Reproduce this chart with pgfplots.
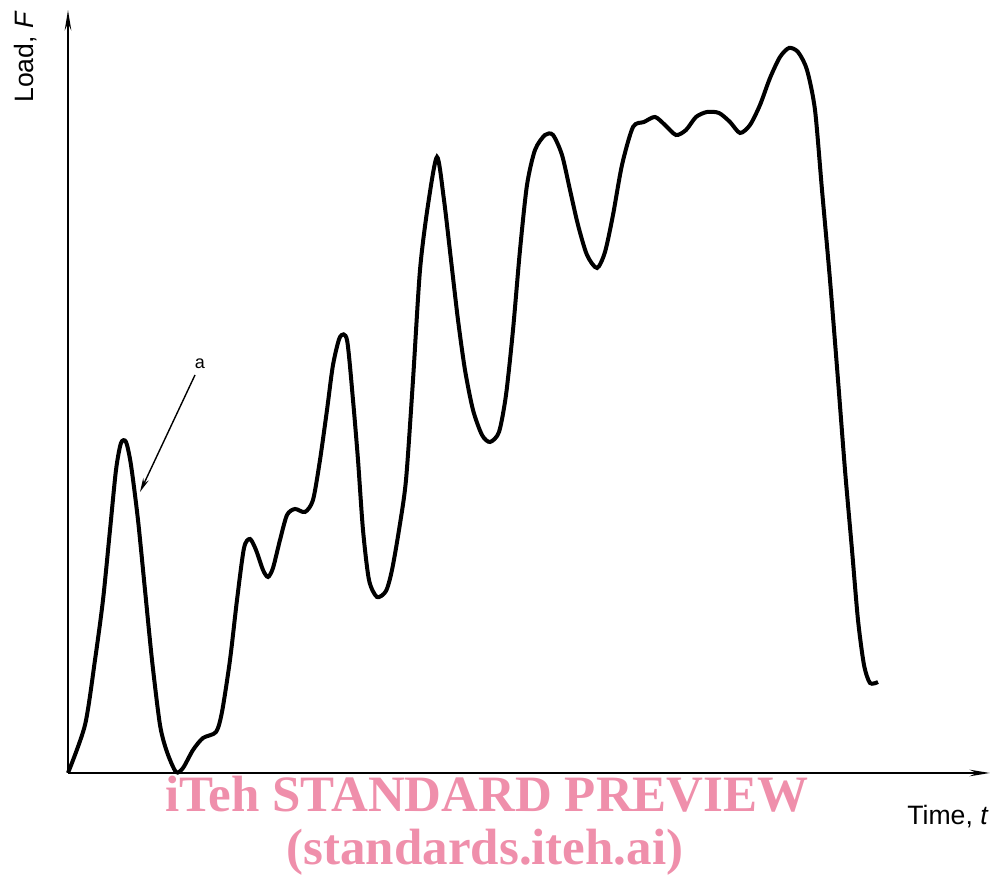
\documentclass[border=0pt]{standalone}
\usepackage{pgfplots}
\pgfplotsset{compat=1.18}
\usepackage{fontspec}
\setmainfont{Liberation Sans}
\newfontfamily\wmfont{Liberation Serif}
\usetikzlibrary{arrows.meta}
\definecolor{wmpink}{RGB}{239,143,171}
\begin{document}
\begin{tikzpicture}
\begin{axis}[
  scale only axis, width=461pt, height=381.5pt,
  xmin=0, xmax=922, ymin=0, ymax=763,
  axis lines=left,
  axis line style={line width=1.3pt, -{Stealth[length=10pt,width=3.2pt]}},
  xtick=\empty, ytick=\empty,
  clip=false,
]
\addplot[line width=2pt, smooth, tension=0.45, black] coordinates {
(0,0) (17,48) (27,113) (35,173) (42,243) (48,303) (53,330) (58,331) (63,308)
(70,253) (77,183) (84,113) (92,48) (99,21) (108,1) (115,5) (125,23) (135,35)
(148,41) (154,61) (162,113) (169,173) (176,225) (182,234) (188,223) (195,203)
(200,196) (205,205) (212,233) (219,258) (227,264) (237,261) (245,273) (252,313)
(259,363) (265,408) (272,436) (279,433) (285,373) (290,313) (295,243) (301,193)
(309,176) (318,182) (324,203) (331,243) (338,293) (345,393) (352,503) (360,568)
(369,616) (376,573) (383,513) (390,453) (397,403) (405,363) (414,338) (422,331)
(431,341) (438,378) (445,443) (452,523) (459,588) (467,623) (477,638) (485,638)
(494,618) (502,583) (510,548) (519,518) (529,505) (537,521) (545,558) (554,608)
(565,646) (576,651) (587,656) (597,648) (608,638) (618,643) (628,656) (639,661)
(651,660) (662,651) (672,640) (682,648) (692,668) (702,695) (712,716) (721,725)
(730,721) (739,703) (747,663) (754,583) (762,493) (770,393) (777,303) (784,223)
(790,153) (796,108) (802,90) (810,91)
};
\draw[line width=0.7pt, -{Stealth[length=7pt,width=3pt]}] (axis cs:127,398) -- (axis cs:72,281);
\node[font=\fontsize{9}{10}\selectfont] at (axis cs:132,409) {a};
\node[anchor=base west, font=\fontsize{13.3}{15}\selectfont, inner sep=0pt] at (axis cs:839,-52) {Time, \textit{t}};
\node[anchor=base west, rotate=90, font=\fontsize{13.3}{15}\selectfont, inner sep=0pt] at (axis cs:-34,670) {Load, \textit{F}};
\node[anchor=base, text=wmpink, font=\wmfont\bfseries\fontsize{25.5}{28}\selectfont, inner sep=0pt] at (axis cs:419,-39) {iTeh STANDARD PREVIEW};
\node[anchor=base, text=wmpink, font=\wmfont\bfseries\fontsize{25.5}{28}\selectfont, inner sep=0pt] at (axis cs:417,-92) {(standards.iteh.ai)};
\coordinate (bbl) at (axis cs:-68,-104);
\coordinate (btr) at (axis cs:924,773);
\end{axis}
\pgfresetboundingbox
\path (bbl) rectangle (btr);
\end{tikzpicture}
\end{document}
